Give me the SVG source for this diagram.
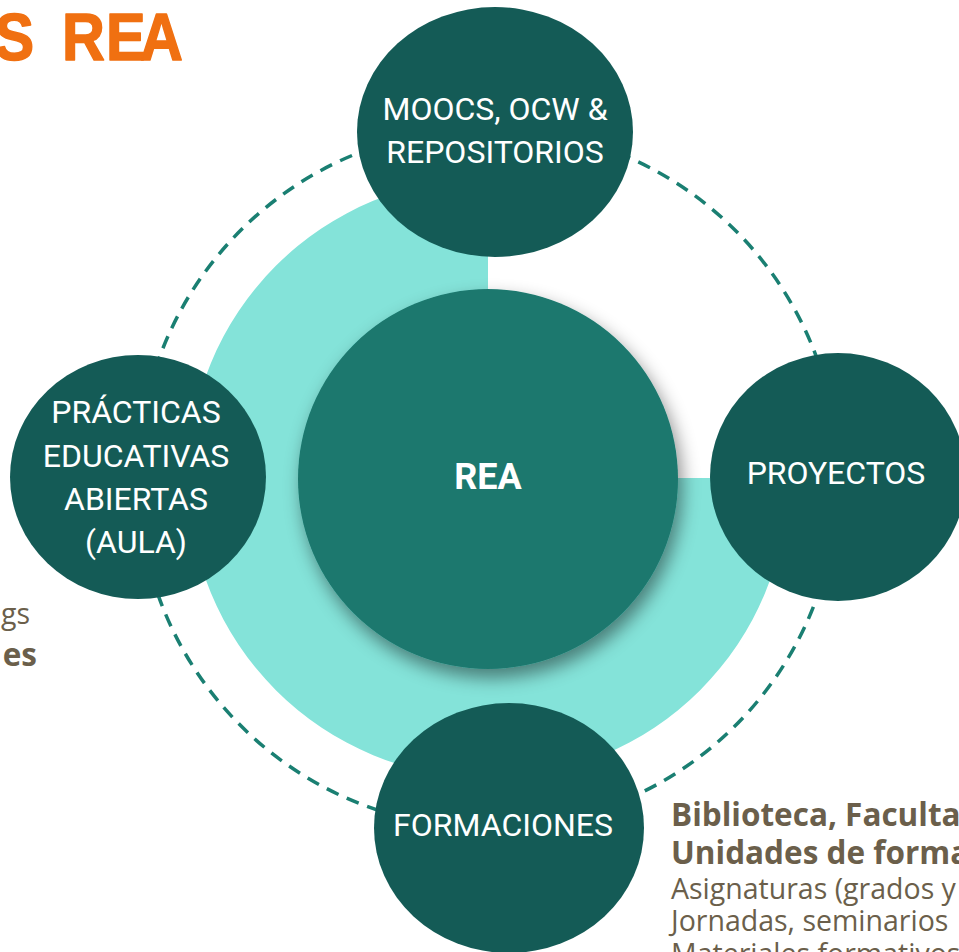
<svg xmlns="http://www.w3.org/2000/svg" width="959" height="952" viewBox="0 0 959 952">
<defs>
<style>
.node{fill:#145b56}
.lbl{font-family:Roboto,"Liberation Sans",sans-serif;font-weight:400;font-size:32px;fill:#ffffff;text-anchor:middle}
.side{font-family:"Open Sans","Noto Sans","Liberation Sans",sans-serif;font-size:28.5px;fill:#6b5f4b}
.b{font-weight:bold;font-size:31.5px}
</style>
<filter id="sh" x="-30%" y="-30%" width="160%" height="160%">
<feDropShadow dx="4" dy="9" stdDeviation="9" flood-color="#000000" flood-opacity="0.45"/>
</filter>
</defs>
<rect width="959" height="952" fill="#ffffff"/>
<g id="title">
<text transform="scale(0.9 1)" x="-6 40 68.9 117.8 155.6" y="60" font-family="'Comic Sans MS','Liberation Sans',sans-serif" font-weight="bold" font-size="66" fill="#f07011" stroke="#f07011" stroke-width="1.5" stroke-linejoin="round">S REA</text>
</g>
<g id="ring">
<path d="M488 478 L488 178 A300 300 0 1 0 788 478 Z" fill="#84e3d9"/>
</g>
<g id="connectors">
<circle cx="488" cy="478" r="350" fill="none" stroke="#1a7f72" stroke-width="3.5" stroke-dasharray="13 9"/>
</g>
<g id="node-moocs">
<ellipse class="node" cx="495" cy="132" rx="138" ry="125"/>
<text class="lbl" x="495" y="120">MOOCS, OCW &amp;</text>
<text class="lbl" x="495" y="163">REPOSITORIOS</text>
</g>
<g id="node-practicas">
<ellipse class="node" cx="138" cy="477" rx="128" ry="122"/>
<text class="lbl" x="136" y="423">PRÁCTICAS</text>
<text class="lbl" x="136" y="467">EDUCATIVAS</text>
<text class="lbl" x="136" y="510">ABIERTAS</text>
<text class="lbl" x="136" y="553">(AULA)</text>
</g>
<g id="node-proyectos">
<ellipse class="node" cx="838" cy="477" rx="128" ry="124"/>
<text class="lbl" x="836" y="484">PROYECTOS</text>
</g>
<g id="node-formaciones">
<ellipse class="node" cx="509" cy="828" rx="135" ry="125"/>
<text class="lbl" x="503" y="836">FORMACIONES</text>
</g>
<g id="node-rea">
<circle cx="488" cy="479" r="190" fill="#1b786e" filter="url(#sh)"/>
<text x="488" y="489" font-family="Roboto,'Liberation Sans',sans-serif" font-weight="bold" font-size="36" fill="#ffffff" text-anchor="middle">REA</text>
</g>
<g id="left-text">
<text class="side" x="30" y="624" text-anchor="end">gs</text>
<text class="side b" x="37" y="666" text-anchor="end">es</text>
</g>
<g id="right-text">
<text class="side b" x="671" y="826">Biblioteca, Faculta</text>
<text class="side b" x="671" y="864">Unidades de forma</text>
<text class="side" x="671" y="899">Asignaturas (grados y</text>
<text class="side" x="671" y="931">Jornadas, seminarios</text>
<text class="side" x="671" y="964">Materiales formativos</text>
</g>
</svg>
